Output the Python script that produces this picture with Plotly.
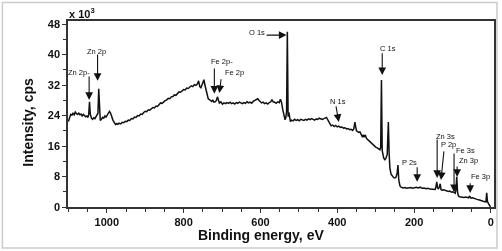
import plotly.graph_objects as go

# ---- data (binding energy in eV, intensity in 10^3 cps) ----
binding_energy = [
    1100, 1097, 1094, 1091, 1088, 1085, 1082, 1079, 1076, 1073,
    1070, 1067, 1064, 1061, 1058, 1055, 1052, 1049, 1047, 1045,
    1043, 1040, 1037, 1034, 1031, 1028, 1025, 1023, 1021, 1019,
    1017, 1014, 1011, 1008, 1005, 1002, 999, 996, 993, 990,
    987, 984, 980, 977, 974, 971, 968, 964, 960, 956,
    952, 948, 944, 940, 936, 932, 928, 924, 920, 916,
    912, 908, 904, 900, 896, 892, 888, 884, 880, 876,
    872, 868, 864, 860, 856, 852, 848, 844, 840, 836,
    832, 828, 824, 820, 816, 812, 808, 804, 800, 796,
    792, 788, 784, 780, 776, 772, 768, 764, 761, 758,
    755, 752, 749, 747, 745, 742, 739, 736, 733, 730,
    727, 724, 721, 718, 715, 712, 710, 707, 703, 699,
    695, 691, 687, 683, 679, 675, 671, 667, 663, 659,
    655, 651, 647, 643, 639, 635, 631, 627, 623, 619,
    615, 611, 607, 604, 601, 597, 593, 589, 585, 581,
    577, 573, 570, 567, 563, 559, 555, 551, 548, 545,
    542, 539, 536, 534, 532, 530, 528, 526, 524, 522,
    519, 515, 511, 507, 503, 499, 495, 491, 487, 483,
    479, 475, 471, 467, 463, 459, 455, 451, 447, 443,
    439, 435, 431, 428, 425, 422, 419, 416, 412, 408,
    404, 400, 396, 392, 388, 384, 380, 376, 372, 368,
    364, 360, 357, 354, 352, 350, 347, 344, 341, 338,
    335, 332, 330, 327, 324, 320, 316, 312, 308, 304,
    300, 296, 292, 289, 287, 285, 283, 281, 279, 276,
    273, 270, 267, 265, 263, 260, 257, 254, 251, 248,
    246, 244, 242, 240, 237, 234, 229, 224, 219, 214,
    209, 204, 199, 194, 189, 184, 179, 174, 169, 164,
    159, 154, 149, 145, 143, 141, 139, 137, 135, 132,
    130, 127, 123, 119, 115, 111, 107, 103, 99, 96,
    93, 91, 89, 87, 85, 82, 78, 74, 70, 66,
    62, 58, 56, 54, 52, 48, 44, 40, 36, 32,
    28, 24, 20, 16, 13, 11, 9, 6, 3, 1,
]
intensity_k = [
    22.4, 23.6, 24.3, 24.1, 24.6, 24.2, 24.9, 24.5, 24.3, 24.6,
    24.2, 24.4, 23.9, 24.3, 24.0, 23.7, 23.9, 23.5, 24.3, 27.6,
    24.4, 23.3, 23.0, 23.4, 23.2, 23.7, 23.9, 24.6, 31.0, 23.8,
    22.7, 23.0, 23.5, 23.3, 23.9, 23.6, 24.0, 24.7, 25.1, 24.6,
    23.6, 22.8, 22.1, 21.6, 21.9, 21.7, 22.0, 21.8, 22.2, 22.1,
    22.5, 22.4, 22.8, 22.7, 23.2, 23.1, 23.6, 23.5, 24.0, 23.9,
    24.4, 24.3, 24.8, 25.1, 25.0, 25.5, 25.4, 25.9, 26.1, 26.0,
    26.5, 26.4, 26.9, 27.3, 27.2, 27.7, 27.9, 28.1, 28.5, 28.4,
    28.9, 29.0, 29.4, 29.3, 29.8, 30.2, 30.1, 30.5, 30.8, 30.7,
    31.2, 31.1, 31.5, 31.8, 31.6, 32.1, 31.9, 32.3, 33.1, 31.6,
    31.3, 32.0, 32.6, 33.4, 32.2, 30.6, 29.0, 28.4, 28.2, 28.0,
    27.7, 28.0, 27.5, 27.6, 27.9, 28.9, 28.3, 27.3, 27.6, 27.0,
    27.3, 27.1, 27.4, 27.2, 27.5, 27.1, 27.3, 27.0, 27.4, 27.2,
    27.5, 27.3, 27.1, 27.4, 27.2, 27.6, 27.3, 27.5, 27.2, 27.7,
    27.9, 28.1, 28.4, 28.0, 27.7, 27.3, 27.5, 27.1, 27.3, 27.0,
    27.4, 27.6, 28.2, 27.6, 27.5, 27.2, 27.6, 27.4, 28.3, 27.4,
    25.6, 23.8, 22.9, 23.4, 25.0, 46.0, 23.7, 24.8, 23.3, 22.4,
    22.8, 22.6, 23.0, 22.7, 22.9, 22.6, 23.0, 22.8, 22.7, 23.0,
    22.8, 23.1, 22.9, 23.2, 23.0, 22.8, 23.1, 23.0, 23.3, 23.1,
    23.0, 23.2, 23.3, 23.5, 22.9, 22.4, 21.6, 21.3, 21.5, 21.1,
    21.4, 21.0, 21.2, 20.9, 21.0, 20.7, 20.8, 20.5, 20.6, 20.3,
    20.4, 20.1, 20.5, 22.3, 21.0, 20.0, 19.8, 19.6, 19.7, 19.2,
    18.5, 18.9, 18.3, 18.9, 18.0, 17.6, 17.2, 16.8, 16.3, 15.9,
    15.7, 15.5, 15.3, 15.0, 15.6, 33.3, 14.8, 13.2, 12.8, 12.4,
    12.9, 13.8, 22.3, 14.0, 10.2, 8.6, 8.1, 7.8, 7.6, 7.7,
    8.2, 9.0, 11.0, 7.2, 5.6, 5.2, 5.0, 5.1, 4.9, 5.0,
    5.1, 4.9, 5.0, 5.2, 5.0, 5.2, 4.9, 5.0, 4.8, 4.9,
    4.7, 4.6, 4.7, 4.6, 5.4, 6.6, 5.0, 4.8, 5.0, 6.1,
    4.6, 4.4, 4.5, 4.3, 4.3, 4.1, 4.2, 3.9, 4.0, 3.7,
    3.6, 4.6, 7.9, 4.0, 3.0, 2.7, 2.6, 2.7, 2.5, 2.6,
    2.5, 2.4, 2.9, 2.5, 2.3, 2.4, 2.2, 2.1, 2.0, 1.9,
    1.7, 1.6, 1.5, 1.4, 1.3, 3.7, 1.4, 0.8, 0.3, 0.0,
]

x_ticks = [1000, 800, 600, 400, 200, 0]
y_ticks = [0, 8, 16, 24, 32, 40, 48]

# peak labels: text, text position (BE, I), arrow tail (BE, I), arrow head (BE, I)
peak_labels = ["Zn 2p-", "Zn 2p", "Fe 2p-", "Fe 2p", "O 1s", "N 1s", "C 1s",
               "P 2s", "Zn 3s", "P 2p", "Fe 3s", "Zn 3p", "Fe 3p"]
label_be = [1072, 1027, 699, 668, 610, 398, 268, 211, 117, 110, 66, 58, 28]
label_int = [35.4, 40.9, 38.1, 35.2, 45.7, 27.8, 41.7, 11.8, 18.6, 16.3, 14.7, 12.1, 7.9]
tail_be = [1046, 1024, 720, 702, 588, 404, 283, 192, 140, 122, 96, 88, 54]
tail_int = [34.6, 40.4, 36.7, 33.9, 45.1, 26.8, 40.7, 10.8, 18.1, 15.0, 14.4, 11.0, 6.6]
head_be = [1046, 1024, 720, 707, 532, 396, 283, 192, 140, 130, 96, 88, 54]
head_int = [28.1, 33.1, 29.7, 29.9, 45.1, 22.3, 34.6, 6.6, 7.6, 7.1, 3.9, 7.9, 3.7]

FONT = "Liberation Sans, Arial, sans-serif"

fig = go.Figure()
fig.add_trace(go.Scatter(
    x=binding_energy, y=intensity_k, mode="lines",
    line=dict(color="#111111", width=1.5), showlegend=False, hoverinfo="skip",
))

annotations = []
for i, lab in enumerate(peak_labels):
    annotations.append(dict(
        x=label_be[i], y=label_int[i], xref="x", yref="y", text=lab, showarrow=False,
        font=dict(family=FONT, size=7.5, color="#111111"),
    ))
    annotations.append(dict(
        x=head_be[i], y=head_int[i], xref="x", yref="y", text="",
        showarrow=True, ax=tail_be[i], ay=tail_int[i], axref="x", ayref="y",
        arrowhead=2, arrowsize=1.4, arrowwidth=1.1, arrowcolor="#111111",
    ))

annotations.append(dict(
    x=-0.003, y=1.043, xref="paper", yref="paper", xanchor="left", yanchor="middle",
    text="x 10<sup>3</sup>", showarrow=False,
    font=dict(family=FONT, size=11, color="#111111", weight="bold"),
))
annotations.append(dict(
    x=0.453, y=-0.15, xref="paper", yref="paper", xanchor="center", yanchor="middle",
    text="Binding energy, eV", showarrow=False,
    font=dict(family=FONT, size=14, color="#111111", weight="bold"),
))
annotations.append(dict(
    x=-0.096, y=0.454, xref="paper", yref="paper", xanchor="center", yanchor="middle",
    text="Intensity, cps", textangle=-90, showarrow=False,
    font=dict(family=FONT, size=14, color="#111111", weight="bold"),
))

fig.update_layout(
    width=502, height=251,
    margin=dict(l=68, r=6, t=21, b=44),
    paper_bgcolor="white", plot_bgcolor="white",
    annotations=annotations,
    shapes=[dict(type="rect", xref="paper", yref="paper",
                 x0=-0.154, x1=1.007, y0=-0.22, y1=1.10,
                 line=dict(color="#cccccc", width=1.5), fillcolor="rgba(0,0,0,0)",
                 layer="below")],
)
fig.update_xaxes(
    range=[1101, -8], tickvals=x_ticks, ticktext=[str(v) for v in x_ticks],
    ticks="outside", ticklen=4, tickwidth=1, tickcolor="#333333",
    minor=dict(dtick=50, ticks="outside", ticklen=3, tickcolor="#333333"),
    showline=True, mirror=True, linecolor="#333333", linewidth=1.5,
    showgrid=False, zeroline=False,
    tickfont=dict(family=FONT, size=11, color="#111111", weight="bold"),
)
fig.update_yaxes(
    range=[0, 48.8], tickvals=y_ticks, ticktext=[str(v) for v in y_ticks],
    ticks="outside", ticklen=4, tickwidth=1, tickcolor="#333333",
    minor=dict(dtick=4, ticks="outside", ticklen=3, tickcolor="#333333"),
    showline=True, mirror=True, linecolor="#333333", linewidth=1.5,
    showgrid=False, zeroline=False,
    tickfont=dict(family=FONT, size=11, color="#111111", weight="bold"),
)

fig.write_html(
    "out.html",
    config={"displayModeBar": False},
    post_script=(
        "document.body.style.margin='0';document.body.style.overflow='hidden';"
        "document.querySelectorAll('.main-svg').forEach(function(s){s.style.willChange='transform';});"
    ),
)
